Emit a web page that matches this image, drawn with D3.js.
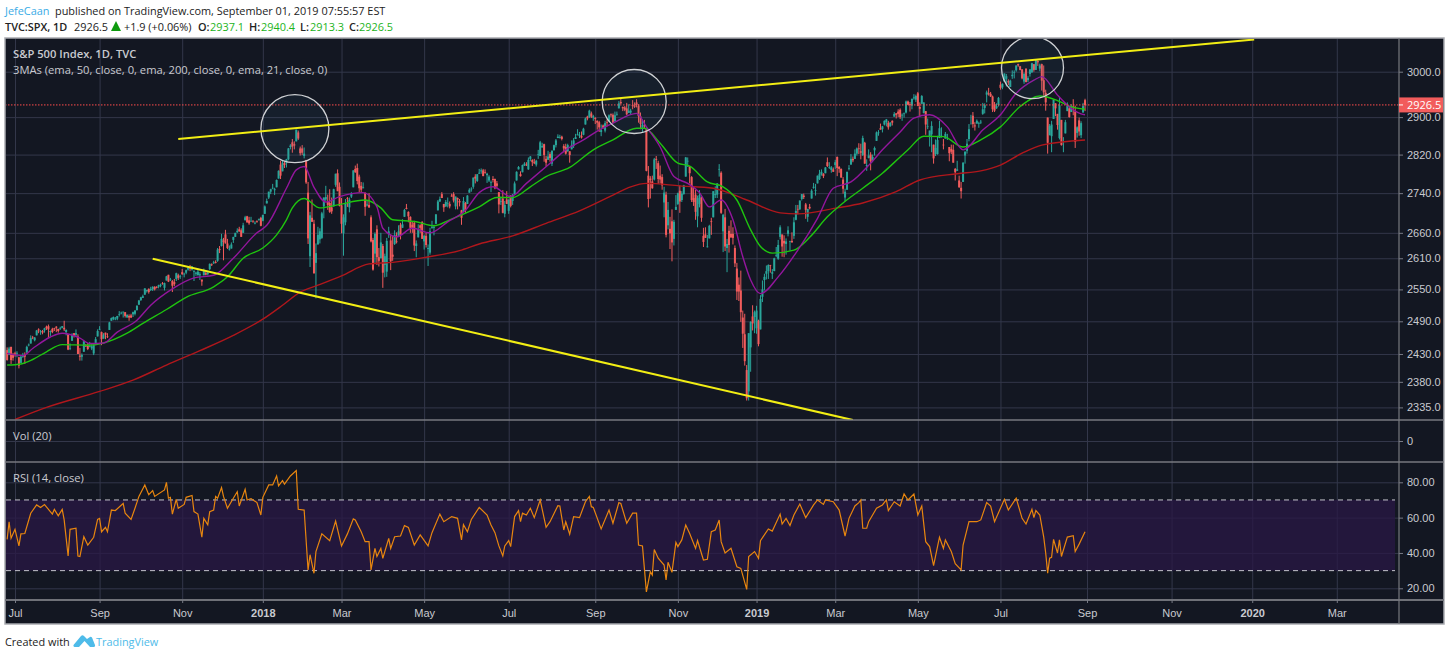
<!DOCTYPE html>
<html>
<head>
<meta charset="utf-8">
<title>S&amp;P 500 Index, 1D, TVC</title>
<script src="https://cdn.jsdelivr.net/npm/d3@7"></script>
<style>
  html, body { margin: 0; padding: 0; background: #fff; }
  svg { display: block; font-family: "Open Sans", sans-serif; }
  .axis path { display: none; }
  .axis text { fill: #c9cad0; font-size: 11px; }
  .axis line { stroke: #787b86; }
  .grid line { stroke: #33374a; }
  .grid path { display: none; }
</style>
</head>
<body>
<svg id="chart" width="1450" height="657"></svg>
<script>
// daily candles, one line per month, Jun 26 2017 to Aug 30 2019
var opens = [
2436,2437,2428,2443,2430,
2431,2431,2424,2414,2425,2428,2433,2446,2449,2460,2455,2464,2475,2471,2472,2473,2480,2481,2470,2476,
2477,2480,2476,2476,2478,2478,2470,2466,2441,2454,2468,2465,2462,2427,2425,2434,2445,2447,2444,2440,2431,2447,2462,
2475,2470,2458,2469,2462,2474,2491,2494,2494,2495,2502,2506,2507,2507,2497,2500,2501,2503,2504,2511,
2521,2530,2534,2540,2547,2551,2549,2550,2555,2555,2555,2557,2562,2553,2567,2578,2568,2566,2564,2570,2577,2575,
2583,2579,2582,2588,2592,2588,2585,2580,2577,2577,2569,2577,2582,2579,2589,2598,2600,2603,2605,2628,2634,
2645,2657,2639,2627,2629,2646,2652,2661,2667,2665,2660,2685,2693,2685,2683,2684,2680,2683,2686,2690,
2684,2698,2719,2731,2743,2751,2746,2752,2770,2799,2785,2802,2802,2810,2836,2846,2842,2848,2867,2833,2833,
2817,2808,2741,2614,2690,2678,2601,2637,2647,2650,2713,2727,2722,2720,2711,2713,2757,2781,2753,
2715,2659,2681,2730,2711,2733,2752,2790,2792,2774,2755,2750,2741,2715,2716,2691,2646,2619,2667,2612,2610,
2634,2597,2584,2657,2645,2617,2638,2643,2653,2676,2670,2692,2710,2702,2692,2676,2680,2634,2651,2675,2682,
2643,2654,2628,2621,2670,2670,2678,2705,2723,2738,2718,2713,2719,2718,2735,2738,2713,2730,2724,2705,2702,2720,
2718,2741,2748,2753,2774,2765,2780,2785,2787,2783,2777,2766,2762,2769,2769,2760,2742,2723,2729,2698,2727,
2704,2733,2724,2738,2766,2789,2779,2783,2797,2799,2789,2811,2809,2804,2799,2820,2817,2835,2842,2811,2809,
2821,2801,2829,2840,2855,2856,2858,2838,2836,2827,2827,2831,2838,2853,2861,2861,2860,2862,2884,2901,2900,2908,2899,
2898,2892,2889,2868,2882,2871,2889,2891,2906,2905,2891,2906,2919,2933,2922,2921,2919,2909,2910,
2926,2924,2932,2925,2902,2877,2882,2874,2776,2770,2764,2768,2811,2802,2776,2773,2721,2737,2675,2668,2683,2648,2706,
2718,2745,2726,2738,2774,2806,2796,2773,2730,2737,2693,2718,2731,2654,2657,2633,2649,2683,2691,2736,2737,
2790,2782,2663,2691,2630,2664,2658,2658,2630,2590,2559,2548,2497,2466,2401,2363,2442,2499,2498,
2477,2491,2475,2536,2568,2580,2585,2597,2580,2585,2615,2609,2652,2657,2644,2638,2658,2644,2644,2654,2686,
2708,2707,2728,2735,2717,2692,2712,2729,2751,2746,2760,2769,2779,2780,2781,2804,2794,2788,2789,
2798,2815,2794,2790,2768,2731,2747,2791,2799,2811,2811,2822,2833,2827,2819,2845,2796,2813,2820,2809,2829,
2849,2867,2876,2874,2884,2889,2888,2881,2892,2901,2908,2912,2916,2904,2908,2910,2934,2928,2925,2941,2938,
2952,2922,2929,2909,2913,2880,2859,2863,2841,2821,2821,2855,2859,2841,2854,2856,2836,2832,2830,2790,2786,2766,
2751,2763,2818,2828,2853,2886,2903,2882,2886,2886,2889,2907,2920,2949,2952,2951,2945,2926,2919,2926,
2971,2965,2978,2984,2979,2966,2990,2999,3003,3017,3012,3005,2978,3007,2981,2995,2999,3017,3004,3024,3007,3017,
2981,2953,2899,2861,2859,2896,2930,2907,2855,2894,2847,2865,2913,2919,2911,2923,2912,2866,2893,2861,2910,2937
];
var highs = [
2443,2442,2443,2443,2432,
2434,2435,2425,2427,2432,2433,2445,2449,2464,2463,2461,2474,2477,2474,2474,2478,2482,2484,2473,2478,
2478,2481,2476,2480,2481,2491,2475,2466,2449,2468,2468,2475,2466,2441,2431,2454,2448,2450,2452,2449,2450,2461,2475,
2481,2471,2468,2469,2468,2489,2497,2499,2498,2500,2509,2508,2508,2507,2503,2503,2504,2508,2511,2520,
2530,2536,2540,2552,2549,2552,2555,2556,2556,2556,2559,2561,2564,2563,2576,2578,2572,2568,2570,2582,2580,2578,
2589,2582,2588,2593,2597,2595,2587,2584,2590,2583,2568,2590,2583,2585,2600,2600,2605,2606,2630,2634,2658,
2650,2666,2648,2635,2641,2652,2660,2669,2672,2669,2680,2694,2694,2692,2692,2685,2683,2685,2688,2692,
2696,2715,2729,2743,2749,2759,2751,2768,2787,2807,2808,2806,2811,2834,2842,2853,2848,2873,2871,2837,2840,
2835,2809,2763,2702,2727,2686,2639,2672,2669,2702,2731,2755,2737,2748,2731,2749,2780,2789,2762,
2730,2697,2728,2732,2731,2742,2787,2797,2801,2778,2763,2762,2741,2725,2740,2695,2650,2661,2675,2630,2660,
2638,2619,2650,2672,2657,2654,2665,2661,2675,2680,2687,2708,2718,2703,2693,2683,2684,2645,2677,2677,2683,
2656,2660,2637,2670,2684,2676,2697,2726,2733,2742,2718,2726,2731,2723,2739,2742,2733,2731,2728,2706,2732,2722,
2736,2750,2752,2772,2779,2779,2790,2791,2790,2789,2782,2777,2766,2775,2770,2765,2742,2733,2746,2724,2744,
2727,2736,2738,2764,2785,2796,2785,2799,2804,2804,2814,2817,2810,2811,2809,2830,2849,2845,2843,2817,2828,
2825,2829,2841,2853,2863,2862,2860,2842,2843,2843,2827,2850,2855,2864,2874,2868,2869,2877,2899,2903,2916,2912,2905,
2900,2893,2892,2884,2884,2892,2895,2906,2908,2908,2912,2912,2935,2941,2923,2924,2931,2928,2918,
2937,2932,2939,2928,2910,2895,2894,2874,2796,2775,2776,2813,2817,2807,2797,2779,2753,2743,2722,2692,2707,2686,2736,
2741,2756,2744,2757,2815,2814,2796,2775,2754,2747,2735,2746,2733,2670,2671,2656,2676,2690,2744,2754,2760,
2800,2785,2698,2708,2648,2674,2685,2671,2635,2601,2573,2586,2510,2504,2410,2468,2490,2520,2510,
2519,2493,2539,2567,2580,2596,2598,2597,2589,2611,2632,2646,2675,2653,2655,2649,2673,2644,2661,2691,2716,
2716,2725,2738,2739,2720,2708,2718,2748,2761,2759,2776,2788,2789,2781,2794,2814,2804,2796,2793,
2809,2816,2796,2791,2773,2749,2784,2798,2821,2816,2831,2835,2844,2843,2860,2847,2810,2831,2825,2820,2837,
2869,2872,2886,2881,2893,2896,2892,2889,2893,2911,2909,2917,2919,2908,2910,2936,2936,2933,2940,2950,2949,
2955,2932,2948,2932,2913,2897,2871,2891,2841,2852,2860,2892,2878,2853,2868,2864,2836,2841,2841,2792,2807,2776,
2763,2804,2827,2853,2885,2905,2911,2889,2895,2890,2894,2931,2930,2958,2964,2955,2947,2933,2930,2944,
2978,2974,2996,2995,2983,2982,3003,3003,3014,3018,3013,3006,2998,3007,2990,3006,3020,3016,3028,3026,3018,3018,
3014,2960,2899,2885,2892,2938,2930,2907,2944,2894,2857,2894,2932,2923,2928,2939,2925,2880,2899,2891,2931,2940
];
var lows = [
2435,2418,2428,2412,2418,
2425,2424,2404,2414,2423,2412,2431,2444,2449,2457,2453,2464,2468,2465,2466,2469,2474,2459,2463,2468,
2472,2470,2469,2474,2477,2472,2464,2437,2437,2454,2460,2462,2430,2418,2418,2434,2443,2437,2442,2437,2428,2447,2462,
2474,2446,2458,2457,2459,2474,2491,2492,2492,2492,2499,2503,2497,2497,2497,2491,2496,2498,2501,2510,
2521,2528,2534,2540,2544,2542,2547,2547,2548,2552,2552,2554,2559,2548,2567,2564,2566,2545,2556,2566,2568,2570,
2578,2573,2579,2586,2585,2586,2566,2576,2577,2568,2557,2577,2577,2577,2587,2595,2599,2600,2603,2620,2633,
2606,2639,2628,2625,2629,2640,2652,2660,2662,2652,2660,2685,2680,2676,2682,2680,2677,2680,2684,2673,
2683,2698,2719,2728,2738,2748,2736,2752,2770,2769,2785,2792,2793,2808,2831,2824,2831,2848,2851,2818,2819,
2812,2759,2638,2593,2682,2580,2533,2637,2639,2648,2689,2724,2706,2700,2698,2713,2753,2744,2713,
2659,2615,2675,2712,2701,2730,2752,2782,2758,2742,2741,2750,2694,2713,2710,2641,2586,2601,2597,2594,2610,
2553,2573,2574,2650,2587,2605,2636,2639,2653,2647,2670,2692,2707,2681,2660,2660,2624,2612,2651,2660,2648,
2627,2631,2595,2617,2668,2655,2678,2705,2722,2730,2702,2712,2711,2709,2733,2721,2707,2707,2713,2676,2702,2700,
2718,2741,2743,2749,2760,2763,2780,2780,2775,2780,2761,2763,2742,2762,2748,2751,2699,2716,2699,2691,2718,
2698,2711,2716,2738,2766,2789,2774,2783,2796,2796,2788,2806,2796,2800,2795,2811,2817,2835,2805,2795,2809,
2805,2796,2829,2835,2855,2854,2850,2825,2820,2826,2803,2831,2834,2853,2861,2855,2854,2861,2884,2893,2898,2898,2892,
2885,2873,2868,2859,2875,2867,2880,2890,2900,2887,2890,2903,2919,2928,2913,2913,2904,2909,2906,
2917,2920,2921,2888,2874,2866,2875,2785,2711,2729,2749,2766,2790,2759,2760,2747,2691,2651,2667,2628,2604,2635,2706,
2716,2700,2722,2737,2774,2794,2760,2722,2714,2686,2671,2711,2682,2632,2650,2631,2649,2656,2691,2730,2730,
2774,2698,2622,2624,2583,2621,2650,2637,2593,2530,2528,2489,2441,2409,2347,2347,2398,2473,2468,
2467,2444,2475,2526,2548,2569,2570,2582,2570,2585,2612,2607,2647,2613,2612,2617,2653,2625,2641,2648,2685,
2697,2706,2725,2728,2688,2682,2707,2729,2749,2735,2760,2767,2776,2771,2781,2794,2790,2782,2784,
2790,2775,2782,2772,2739,2723,2747,2787,2799,2804,2811,2818,2821,2810,2817,2801,2786,2812,2787,2804,2818,
2849,2860,2873,2867,2882,2880,2873,2879,2882,2901,2897,2900,2896,2892,2899,2908,2926,2912,2917,2938,2933,
2924,2901,2929,2908,2862,2874,2837,2825,2801,2817,2820,2855,2856,2831,2854,2851,2806,2821,2803,2766,2786,2751,
2729,2763,2801,2822,2848,2886,2877,2871,2886,2877,2885,2905,2908,2932,2947,2944,2911,2911,2918,2923,
2960,2961,2978,2967,2970,2966,2984,2985,3000,3011,3003,2983,2973,2976,2977,2989,2997,3000,3004,3013,3001,2958,
2945,2914,2822,2861,2825,2896,2902,2873,2852,2839,2825,2865,2913,2899,2911,2904,2834,2856,2860,2855,2910,2913
];
var closes = [
2439,2419,2440,2419,2423,
2429,2432,2409,2425,2427,2425,2443,2447,2459,2459,2460,2473,2473,2472,2469,2477,2477,2475,2472,2470,
2476,2478,2472,2477,2481,2475,2474,2438,2441,2465,2464,2468,2430,2425,2428,2453,2444,2439,2444,2444,2446,2457,2472,
2476,2457,2465,2465,2461,2488,2496,2498,2495,2500,2503,2506,2508,2500,2502,2497,2497,2507,2510,2519,
2529,2535,2537,2552,2549,2545,2551,2555,2550,2553,2558,2559,2561,2562,2575,2565,2569,2557,2560,2581,2572,2575,
2579,2580,2587,2591,2590,2594,2585,2582,2584,2579,2565,2585,2578,2582,2599,2597,2602,2601,2627,2626,2648,
2642,2639,2630,2629,2637,2652,2660,2664,2663,2652,2675,2691,2681,2679,2684,2683,2680,2682,2688,2674,
2696,2713,2724,2743,2748,2751,2748,2767,2786,2776,2803,2798,2810,2833,2839,2837,2839,2873,2854,2823,2824,
2822,2762,2649,2695,2682,2581,2620,2656,2663,2699,2731,2732,2716,2702,2703,2748,2780,2744,2714,
2678,2691,2720,2729,2727,2739,2787,2783,2765,2750,2747,2752,2712,2717,2711,2643,2588,2658,2612,2605,2641,
2582,2614,2644,2663,2604,2613,2656,2642,2663,2656,2677,2706,2708,2693,2670,2670,2635,2639,2667,2670,2648,
2654,2636,2630,2663,2672,2672,2697,2723,2728,2730,2711,2722,2720,2713,2733,2725,2733,2727,2721,2690,2724,2705,
2735,2747,2749,2772,2770,2779,2782,2787,2775,2782,2780,2774,2763,2767,2750,2755,2717,2724,2700,2716,2718,
2727,2714,2737,2760,2784,2794,2775,2798,2801,2798,2809,2816,2804,2802,2807,2821,2846,2838,2819,2803,2816,
2813,2828,2840,2850,2858,2857,2853,2833,2822,2840,2819,2840,2850,2857,2863,2861,2856,2875,2897,2897,2914,2901,2902,
2896,2888,2878,2872,2877,2887,2888,2904,2904,2888,2904,2907,2930,2930,2919,2916,2906,2914,2914,
2924,2923,2926,2902,2885,2884,2881,2786,2728,2767,2750,2810,2809,2769,2768,2756,2741,2656,2706,2659,2641,2682,2712,
2740,2723,2739,2756,2814,2807,2781,2726,2722,2702,2730,2736,2690,2642,2650,2633,2674,2682,2744,2738,2760,
2790,2700,2696,2633,2638,2636,2651,2650,2600,2546,2546,2507,2467,2417,2351,2468,2489,2486,2507,
2510,2448,2532,2550,2574,2585,2597,2596,2583,2610,2616,2636,2671,2633,2639,2643,2665,2644,2641,2681,2704,
2707,2725,2738,2732,2706,2708,2709,2745,2753,2746,2776,2780,2784,2775,2793,2796,2794,2793,2784,
2804,2792,2790,2772,2749,2743,2784,2792,2811,2808,2822,2833,2832,2824,2855,2801,2798,2818,2806,2815,2834,
2867,2867,2873,2880,2892,2895,2878,2888,2888,2907,2905,2907,2900,2905,2908,2934,2927,2926,2940,2943,2946,
2924,2918,2946,2932,2884,2880,2871,2881,2812,2834,2851,2876,2860,2840,2864,2856,2823,2826,2803,2783,2789,2752,
2744,2803,2826,2843,2874,2886,2885,2880,2892,2887,2890,2917,2926,2954,2950,2945,2917,2914,2924,2942,
2964,2973,2996,2990,2976,2980,2993,2999,3014,3014,3004,2985,2995,2977,2986,3005,3019,3004,3026,3021,3014,2980,
2954,2932,2845,2881,2884,2938,2919,2883,2926,2840,2848,2889,2924,2900,2924,2922,2847,2878,2869,2887,2924,2926
];

// moving averages at these bars
var ema21Bars = [1,9,14,23,29,38,43,50,57,67,74,85,96,106,116,128,133,143,148,152,157,163,170,182,189,192,199,207,216,225,234,241,248,257,265,276,285,294,301,309,321,326,333,340,347,353,358,364,370,375,379,384,393,403,413,421,430,440,446,455,462,470,479,487,497,506,514,523,527,535,540,547,549];
var ema21Vals = [2431,2427,2440,2461,2468,2459,2449,2450,2470,2492,2520,2551,2572,2577,2610,2660,2675,2750,2788,2795,2752,2722,2733,2741,2712,2669,2652,2669,2660,2682,2705,2741,2753,2733,2760,2798,2830,2851,2870,2887,2908,2879,2836,2774,2760,2741,2712,2726,2686,2613,2568,2542,2574,2626,2689,2750,2763,2802,2830,2868,2898,2905,2879,2830,2872,2905,2952,2981,2989,2948,2926,2907,2905];
var ema50Bars = [1,8,14,21,29,42,50,62,70,82,92,106,113,121,131,138,143,146,152,160,169,183,191,197,209,218,226,241,250,258,267,275,287,299,309,321,325,333,342,348,357,365,372,379,384,390,401,409,418,426,436,446,455,459,467,477,487,496,506,516,526,535,541,549];
var ema50Vals = [2410,2412,2420,2434,2447,2446,2450,2468,2486,2512,2535,2555,2574,2610,2630,2656,2686,2710,2729,2710,2716,2726,2710,2686,2682,2674,2686,2712,2731,2731,2753,2774,2793,2830,2851,2876,2876,2844,2802,2796,2763,2753,2726,2666,2633,2620,2626,2651,2692,2720,2750,2781,2815,2830,2859,2858,2836,2851,2879,2923,2946,2936,2924,2917];
var ema200Bars = [5,21,48,65,82,99,116,131,141,150,159,171,185,197,214,231,241,258,275,292,309,318,326,343,360,377,394,403,423,436,453,465,484,496,506,517,527,549];
var ema200Vals = [2314,2335,2363,2383,2410,2436,2464,2494,2520,2545,2558,2576,2599,2602,2612,2625,2638,2654,2679,2704,2736,2753,2760,2755,2750,2726,2700,2698,2710,2720,2743,2767,2780,2786,2798,2823,2840,2851];

// RSI at its turning points
var rsiBars = [
1,2,3,5,7,8,10,13,16,18,
20,24,25,27,29,30,32,33,36,37,
38,40,42,45,47,48,49,51,52,54,
56,60,61,64,66,68,71,73,75,76,
81,82,83,84,85,87,88,91,92,95,
96,98,100,101,103,104,106,107,108,110,
111,113,116,118,119,122,123,125,128,130,
131,134,136,138,139,141,142,145,148,149,
152,154,155,157,158,161,165,168,171,174,
177,178,181,183,185,186,188,189,191,192,
195,196,198,201,203,205,208,211,215,217,
221,223,227,230,232,233,235,237,241,245,
247,249,251,253,254,256,257,259,261,262,
263,265,267,269,272,275,277,281,282,284,
285,287,289,292,295,297,298,299,303,307,
309,312,313,316,319,321,322,324,326,328,
329,330,332,335,336,337,339,341,342,344,
346,348,351,352,355,357,359,361,363,364,
366,369,372,374,377,378,381,383,384,388,
390,394,395,397,399,401,404,407,411,413,
416,417,421,424,427,429,432,434,435,436,
438,439,443,446,448,449,452,455,457,459,
462,464,466,468,470,472,475,477,478,481,
483,486,487,490,494,496,499,501,503,508,
510,514,517,519,522,523,524,526,528,529,
530,531,532,533,535,536,537,540,543,544,
546,549
];
var rsiValues = [
47.7,57.7,48.3,53.4,44,50.8,51,62.5,67.2,65.7,
67.4,62,64.7,61,64.7,58.7,38.3,53.4,54,38.3,
38,49.2,44.5,48.9,59,59.6,52,54.5,52,64.3,
64,68,62.5,59,65.3,72,78.5,73,75.3,72,
75.7,80,71,71.5,62,70.4,65.3,67.5,71.5,72.5,
63.4,62,48.9,59.6,56,63.4,64.3,72,71,77,
72,65.3,71,74.7,66.6,76,70,70.8,68.5,61.5,
71.5,78.5,78.5,83.6,78,81,79,83.6,86.6,64.7,
64.3,30.4,39,28.5,40.8,50.8,47,58,44,50.8,
59.3,58.7,52,46.4,46.4,30.4,42.6,38,42.6,37,
48.3,42.6,49.2,49.6,55.5,54.5,44.5,50.2,44,51.5,
62,57.7,60.6,59.6,47.4,56,52,59,65.8,61.5,
55.8,51.5,44,38.3,44,47,43.6,60.6,64,57.7,
62.5,61.5,65.3,60,70,54.5,57.7,66.8,66.6,53,
57.7,50.6,60.6,60,69,72,66.2,65.8,53.6,64.3,
56.8,68.5,68,56.8,62.5,62.5,44.5,44,18,29.4,
27.5,42,37,33.2,24.7,34.7,29,46,43.6,47.4,
55.8,51,42.6,47,36,36.4,52,53,58.7,46.4,
40,42.6,32.2,31.3,19.4,38,40.8,37,47,53.6,
52.4,62,56.4,59.6,55.5,61.5,67.7,60,67.2,70,
67.5,70,69,64.3,49.6,59.6,66.6,68.5,70,54,
54,57.7,65.3,67.2,70,64,69,66.6,73.4,70,
73.4,61.5,66.6,46.4,43.6,32.8,48.9,42.6,47.4,40.8,
34,30.4,44.5,57.7,57.7,58.7,68.5,66.6,57.7,70.4,
64.3,71,59.6,56.4,64.7,60,64,61.5,49,40,
28.5,37,37.5,47.7,40,47.4,38,49,49.8,40.8,
45,52
];

var priceTicks = [3000,2900,2820,2740,2660,2610,2550,2490,2430,2380,2335];
var rsiTicks = [80,60,40,20];
var volTicks = [0];
var monthBars = [5,48,90,131,171,213,256,300,342,382,422,464,506,550,593,634,677];
var monthLabels = ["Jul","Sep","Nov","2018","Mar","May","Jul","Sep","Nov","2019","Mar","May","Jul","Sep","Nov","2020","Mar"];

// drawings on the chart, in bars and prices
var trendUpperBars = [88,635], trendUpperPrices = [2853,3073];
var trendLowerBars = [75,431], trendLowerPrices = [2609,2313];
var circleBars = [147.3,319.8,522.3], circlePrices = [2875,2934,3009];
var lastPrice = 2926.5;
var rsiUpper = 70, rsiLower = 30;

var colUp = "#2aa69b", colDown = "#f25c5c";
var frame = {left: 5, right: 1444, top: 38, bottom: 624};
var axisX = 1399, volTop = 420, rsiTop = 462, timeTop = 600;

var svg = d3.select("#chart");

var x = d3.scaleLinear().domain([5, 550]).range([15, 1087]);
var y = d3.scaleLog().domain([3000, 2335]).range([71.7, 407.4]);
var yVol = d3.scaleLinear().domain([0, 1]).range([441, 430]);
var yRsi = d3.scaleLinear().domain([80, 20]).range([482.3, 588.3]);

svg.append("rect")
    .attr("x", frame.left).attr("y", frame.top)
    .attr("width", frame.right - frame.left).attr("height", frame.bottom - frame.top)
    .attr("fill", "#131722").attr("stroke", "#a9abb0").attr("stroke-width", 1.5);

var defs = svg.append("defs");
defs.append("clipPath").attr("id", "pricePane").append("rect")
    .attr("x", frame.left + 1).attr("y", frame.top + 1)
    .attr("width", axisX - frame.left - 1).attr("height", volTop - frame.top - 1);
defs.append("clipPath").attr("id", "rsiPane").append("rect")
    .attr("x", frame.left + 1).attr("y", rsiTop)
    .attr("width", axisX - frame.left - 1).attr("height", timeTop - rsiTop);

// grid first, everything sits on top of it
svg.append("g").attr("class", "grid")
    .attr("transform", "translate(0," + (frame.top + 1) + ")")
    .call(d3.axisBottom(x).tickValues(monthBars).tickSize(timeTop - frame.top - 1).tickFormat(""));

function hGrid(scale, ticks) {
  svg.append("g").attr("class", "grid")
      .attr("transform", "translate(" + (frame.left + 1) + ",0)")
      .call(d3.axisRight(scale).tickValues(ticks).tickSize(axisX - frame.left - 1).tickFormat(""));
}
hGrid(y, priceTicks);
hGrid(yVol, volTicks);
hGrid(yRsi, rsiTicks);

// candles
var bars = d3.range(closes.length);
var price = svg.append("g").attr("clip-path", "url(#pricePane)");

price.selectAll(".wick").data(bars).enter().append("line")
    .attr("class", "wick")
    .attr("x1", function(i) { return x(i); })
    .attr("x2", function(i) { return x(i); })
    .attr("y1", function(i) { return y(highs[i]); })
    .attr("y2", function(i) { return y(lows[i]); })
    .attr("stroke", function(i) { return closes[i] >= opens[i] ? colUp : colDown; })
    .attr("stroke-width", 1);

price.selectAll(".body").data(bars).enter().append("rect")
    .attr("class", "body")
    .attr("x", function(i) { return x(i) - 1; })
    .attr("width", 2)
    .attr("y", function(i) { return y(Math.max(opens[i], closes[i])); })
    .attr("height", function(i) { return Math.max(0.7, Math.abs(y(opens[i]) - y(closes[i]))); })
    .attr("fill", function(i) { return closes[i] >= opens[i] ? colUp : colDown; });

function smaLine(barList, vals, color) {
  var line = d3.line()
      .x(function(b) { return x(b); })
      .y(function(b, i) { return y(vals[i]); })
      .curve(d3.curveMonotoneX);
  price.append("path").datum(barList)
      .attr("d", line)
      .attr("fill", "none")
      .attr("stroke", color)
      .attr("stroke-width", 1.4);
}
smaLine(ema200Bars, ema200Vals, "#b0171c");
smaLine(ema50Bars, ema50Vals, "#1fc40f");
smaLine(ema21Bars, ema21Vals, "#93169d");

// current price line
price.append("line")
    .attr("x1", frame.left).attr("x2", axisX)
    .attr("y1", y(lastPrice)).attr("y2", y(lastPrice))
    .attr("stroke", "#ff4d4d").attr("stroke-dasharray", "1.5 1.5");

// circles around the three touches
var circleRadius = [34, 32, 31];
price.selectAll(".touch").data(circleBars).enter().append("circle")
    .attr("class", "touch")
    .attr("cx", function(d) { return x(d); })
    .attr("cy", function(d, i) { return y(circlePrices[i]); })
    .attr("r", function(d, i) { return circleRadius[i]; })
    .attr("fill", "rgba(60,130,160,0.08)")
    .attr("stroke", "#cfd1d4")
    .attr("stroke-width", 1.3);

// trend lines
[[trendUpperBars, trendUpperPrices], [trendLowerBars, trendLowerPrices]].forEach(function(t) {
  price.append("line")
      .attr("x1", x(t[0][0])).attr("y1", y(t[1][0]))
      .attr("x2", x(t[0][1])).attr("y2", y(t[1][1]))
      .attr("stroke", "#f2ee14")
      .attr("stroke-width", 2);
});

// RSI pane
var rsiPane = svg.append("g").attr("clip-path", "url(#rsiPane)");
rsiPane.append("rect")
    .attr("x", frame.left + 1).attr("width", 1395 - frame.left - 1)
    .attr("y", yRsi(rsiUpper)).attr("height", yRsi(rsiLower) - yRsi(rsiUpper))
    .attr("fill", "#291845").attr("fill-opacity", 0.75);
[rsiUpper, rsiLower].forEach(function(level) {
  rsiPane.append("line")
      .attr("x1", frame.left + 1).attr("x2", 1395)
      .attr("y1", yRsi(level)).attr("y2", yRsi(level))
      .attr("stroke", "#c4c4cc").attr("stroke-dasharray", "5 4");
});
rsiPane.append("path").datum(rsiBars)
    .attr("d", d3.line()
        .x(function(b) { return x(b); })
        .y(function(b, i) { return yRsi(rsiValues[i]); }))
    .attr("fill", "none")
    .attr("stroke", "#e8860f")
    .attr("stroke-width", 1.2);

// pane separators and axis lines
[volTop, rsiTop].forEach(function(py) {
  svg.append("line")
      .attr("x1", frame.left).attr("x2", frame.right)
      .attr("y1", py).attr("y2", py)
      .attr("stroke", "#77797f").attr("stroke-width", 1.5);
});
svg.append("line")
    .attr("x1", frame.left).attr("x2", frame.right)
    .attr("y1", timeTop).attr("y2", timeTop)
    .attr("stroke", "#6f7178").attr("stroke-width", 2);
svg.append("line")
    .attr("x1", axisX).attr("x2", axisX)
    .attr("y1", frame.top).attr("y2", frame.bottom)
    .attr("stroke", "#77797f").attr("stroke-width", 1.2);

function priceAxis(scale, ticks, fmt) {
  var g = svg.append("g").attr("class", "axis")
      .attr("transform", "translate(" + axisX + ",0)")
      .call(d3.axisRight(scale).tickValues(ticks).tickSize(4).tickPadding(4).tickFormat(fmt));
  return g;
}
priceAxis(y, priceTicks, function(d) { return d.toFixed(1); });
priceAxis(yVol, volTicks, function(d) { return d; });
priceAxis(yRsi, rsiTicks, function(d) { return d.toFixed(2); });

var timeAxis = svg.append("g").attr("class", "axis")
    .attr("transform", "translate(0," + timeTop + ")")
    .call(d3.axisBottom(x).tickValues(monthBars).tickSize(3).tickPadding(6)
        .tickFormat(function(d, i) { return monthLabels[i]; }));
timeAxis.selectAll("text")
    .style("font-weight", function(d, i) { return monthLabels[i].length == 4 ? "700" : "400"; });

// last price tag
svg.append("rect")
    .attr("x", axisX).attr("y", y(lastPrice) - 7.5)
    .attr("width", 44).attr("height", 15)
    .attr("fill", "#f25c5c");
svg.append("line")
    .attr("x1", axisX).attr("x2", axisX + 4)
    .attr("y1", y(lastPrice)).attr("y2", y(lastPrice))
    .attr("stroke", "#fff");
svg.append("text")
    .attr("x", axisX + 8).attr("y", y(lastPrice) + 4)
    .attr("fill", "#fff").attr("font-size", 11)
    .text(lastPrice.toFixed(1));

// pane titles
function paneTitle(px, py, str, weight) {
  svg.append("text").attr("x", px).attr("y", py)
      .attr("fill", "#c9cad0").attr("font-size", 11.2)
      .attr("font-weight", weight || 400)
      .text(str);
}
paneTitle(13, 58, "S&P 500 Index, 1D, TVC", 600);
paneTitle(13, 74, "3MAs (ema, 50, close, 0, ema, 200, close, 0, ema, 21, close, 0)");
paneTitle(13, 440, "Vol (20)");
paneTitle(13, 482, "RSI (14, close)");

// page header
function headText(px, py, str, color, weight) {
  svg.append("text").attr("x", px).attr("y", py)
      .attr("fill", color).attr("font-size", 10.9)
      .attr("font-weight", weight || 400)
      .text(str);
}
var green = "#1cb41c", ink = "#222";
headText(5, 15, "JefeCaan", "#3aace6");
headText(55, 15, "published on TradingView.com, September 01, 2019 07:55:57 EST", ink);
headText(5, 31, "TVC:SPX, 1D", ink, 600);
headText(74, 31, "2926.5", ink);
svg.append("path")
    .attr("d", d3.line()([[111, 31], [121, 31], [116, 21]]) + "Z")
    .attr("fill", "#0e9a0e");
headText(124, 31, "+1.9 (+0.06%)", ink);
headText(198, 31, "O:", ink, 600);
headText(210, 31, "2937.1", green);
headText(249, 31, "H:", ink, 600);
headText(261, 31, "2940.4", green);
headText(300, 31, "L:", ink, 600);
headText(310, 31, "2913.3", green);
headText(349, 31, "C:", ink, 600);
headText(359, 31, "2926.5", green);

// footer
headText(5, 646, "Created with", ink);
svg.append("path")
    .attr("d", "M73.5 645 L81 636 Q82.5 634.5 84 636 L87 639 L90 637 Q91 636.5 92 637.5 L95 645 Q95.5 647 93 647 L90 647 L84.5 641 L79 647 L75.5 647 Q73 647 73.5 645 Z")
    .attr("fill", "#4ebbe9");
headText(96, 646, "TradingView", "#4ebbe9");
</script>
</body>
</html>
